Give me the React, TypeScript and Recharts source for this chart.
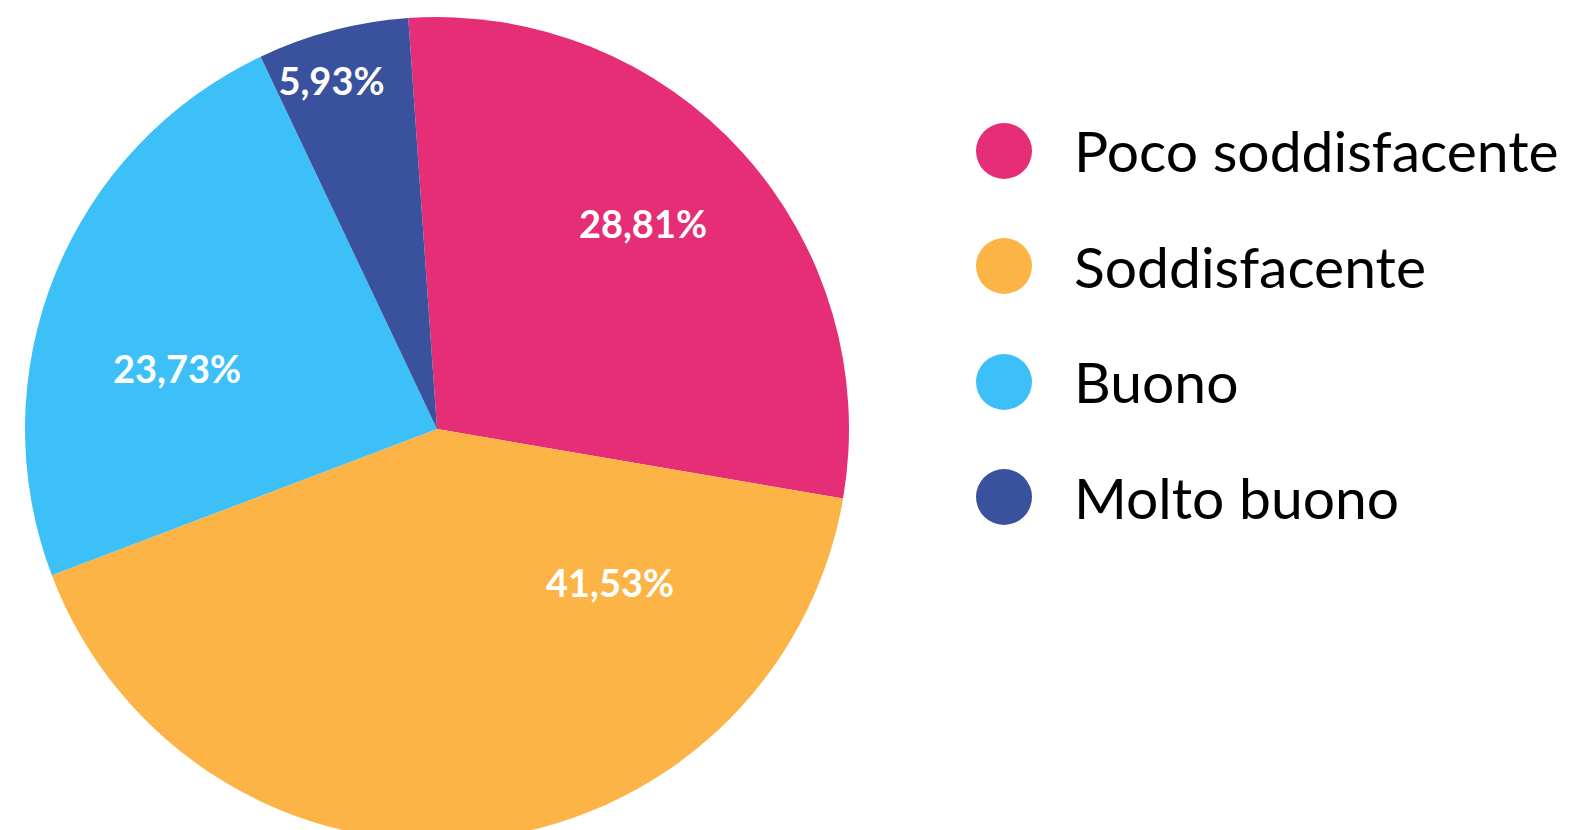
import { PieChart, Pie, Cell, Legend } from 'recharts';

document.body.style.margin = '0';

const categories = ['Poco soddisfacente', 'Soddisfacente', 'Buono', 'Molto buono'];
const percentages = [28.81, 41.53, 23.73, 5.93];
const colors = ['#E52E76', '#FDB446', '#3DBFF8', '#3A519E'];

// label placement, as fraction of radius from the centre (dx, dy)
const labelOffsets = [
    [0.5, -0.499],
    [0.42, 0.371],
    [-0.631, -0.148],
    [-0.256, -0.846],
];

const data = categories.map((name, i) => ({ name, value: percentages[i], color: colors[i] }));

const fmt = (v: number) => v.toFixed(2).replace('.', ',') + '%';

const renderLabel = (props: any) => {
    const { cx, cy, outerRadius, index, value } = props;
    const [fx, fy] = labelOffsets[index];
    return (
        <text
            x={cx + fx * outerRadius}
            y={cy + fy * outerRadius}
            fill="#fff"
            fontSize={38}
            fontWeight={700}
            fontFamily="Lato, sans-serif"
            textAnchor="middle"
            dominantBaseline="central"
        >
            {fmt(value)}
        </text>
    );
};

const renderLegend = () => (
    <div style={{ fontFamily: 'Lato, sans-serif' }}>
        {data.map((d) => (
            <div key={d.name} style={{ display: 'flex', alignItems: 'center', height: 115.5 }}>
                <span
                    style={{
                        display: 'inline-block',
                        flexShrink: 0,
                        width: 56,
                        height: 56,
                        borderRadius: '50%',
                        background: d.color,
                        marginRight: 42,
                    }}
                />
                <span style={{ fontSize: 57, color: '#000', lineHeight: 1, whiteSpace: 'nowrap' }}>{d.name}</span>
            </div>
        ))}
    </div>
);

export default function App() {
    return (
        <div style={{ width: 1579, height: 830 }}>
            <PieChart width={1579} height={830} margin={{ top: 0, right: 0, bottom: 0, left: 0 }}>
                <Pie
                    data={data}
                    dataKey="value"
                    cx={437}
                    cy={429}
                    outerRadius={412}
                    startAngle={94}
                    endAngle={-266}
                    stroke="none"
                    label={renderLabel}
                    labelLine={false}
                    isAnimationActive={false}
                >
                    {data.map((entry, index) => (
                        <Cell key={`cell-${index}`} fill={entry.color} />
                    ))}
                </Pie>
                <Legend
                    content={renderLegend}
                    layout="vertical"
                    wrapperStyle={{ position: 'absolute', left: 976, top: 93, width: 603 }}
                />
            </PieChart>
        </div>
    );
}
